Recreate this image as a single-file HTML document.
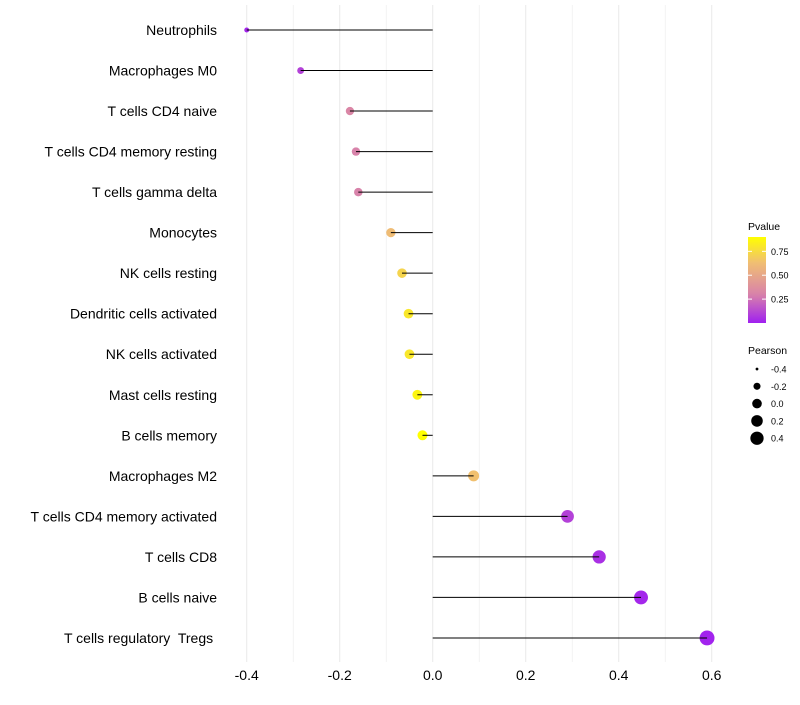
<!DOCTYPE html>
<html><head><meta charset="utf-8"><style>
body{margin:0;background:#fff;font-family:"Liberation Sans",sans-serif}
text{white-space:pre}
</style></head><body>
<svg id="c" width="800" height="700" xmlns="http://www.w3.org/2000/svg" font-family="Liberation Sans, sans-serif"></svg>
<script>
const categories=["Neutrophils","Macrophages M0","T cells CD4 naive","T cells CD4 memory resting","T cells gamma delta","Monocytes","NK cells resting","Dendritic cells activated","NK cells activated","Mast cells resting","B cells memory","Macrophages M2","T cells CD4 memory activated","T cells CD8","B cells naive","T cells regulatory  Tregs "];
const pearson=[-0.40,-0.284,-0.178,-0.165,-0.160,-0.090,-0.066,-0.052,-0.050,-0.033,-0.022,0.088,0.290,0.358,0.448,0.590];
const pvalue=[0.02,0.10,0.32,0.30,0.30,0.62,0.72,0.80,0.80,0.86,0.90,0.64,0.10,0.05,0.02,0.01];
const xTicks=[-0.4,-0.2,0.0,0.2,0.4,0.6];
const xTickLabels=["-0.4","-0.2","0.0","0.2","0.4","0.6"];
const pTicks=[0.25,0.50,0.75];
const pTickLabels=["0.25","0.50","0.75"];
const sizeBreaks=[-0.4,-0.2,0.0,0.2,0.4];
const sizeLabels=["-0.4","-0.2","0.0","0.2","0.4"];

const svg=document.getElementById('c');const NS="http://www.w3.org/2000/svg";
function mk(t,a,p){const e=document.createElementNS(NS,t);for(const k in a)e.setAttribute(k,a[k]);(p||svg).appendChild(e);return e;}
const x=v=>432.7+465*v;
const y=i=>30+i*40.53;
const pmin=0,pmax=0.9;
function lerp(a,b,t){return a+(b-a)*t}
const stops=[[0,[160,32,240]],[0.33,[216,130,170]],[0.7,[240,190,115]],[1,[255,255,0]]];
function col(p){const t=Math.max(0,Math.min(1,(p-pmin)/(pmax-pmin)));
 let k=0;while(k<stops.length-2&&t>stops[k+1][0])k++;
 const a=stops[k],b=stops[k+1];const u=(t-a[0])/(b[0]-a[0]);
 return `rgb(${a[1].map((c,j)=>Math.round(lerp(c,b[1][j],u))).join(',')})`;}
const rad=v=>Math.sqrt(lerp(6,56,(v+0.4)/1.0));
const lrad=v=>Math.sqrt(lerp(2,44,(v+0.4)/0.8));
for(let v=-0.4;v<=0.61;v+=0.1){const g=mk('line',{x1:x(v),x2:x(v),y1:5,y2:662,stroke:'#ebebeb','stroke-width':Math.abs(Math.round(v*10))%2==0?1.1:0.6});
}
xTicks.forEach((v,i)=>{const t=mk('text',{x:x(v),y:680,'text-anchor':'middle','font-size':14,fill:'#000'});t.textContent=xTickLabels[i];
});
categories.forEach((c,i)=>{
 const t=mk('text',{x:217,y:y(i)+5,'text-anchor':'end','font-size':14,fill:'#000'});t.textContent=c;
 
 const d=mk('circle',{cx:x(pearson[i]),cy:y(i),r:rad(pearson[i]),fill:col(pvalue[i])});
 
 const l=mk('line',{x1:x(0),x2:x(pearson[i]),y1:y(i),y2:y(i),stroke:'#000','stroke-width':1});
 
});
const t1=mk('text',{x:748,y:230,'font-size':10.5});t1.textContent='Pvalue';

const defs=mk('defs',{});const lg=mk('linearGradient',{id:'g',x1:0,y1:1,x2:0,y2:0},defs);
for(let k=0;k<=20;k++)mk('stop',{offset:k/20,'stop-color':col(pmin+(pmax-pmin)*k/20)},lg);
const cbTop=237,cbBot=323;const py=p=>cbBot-(p-pmin)/(pmax-pmin)*(cbBot-cbTop);
const cb=mk('rect',{x:748,y:cbTop,width:18,height:cbBot-cbTop,fill:'url(#g)'});

pTicks.forEach((p,i)=>{mk('line',{x1:748,x2:752,y1:py(p),y2:py(p),stroke:'#fff'});mk('line',{x1:762,x2:766,y1:py(p),y2:py(p),stroke:'#fff'});
 const t=mk('text',{x:771,y:py(p)+3.5,'font-size':9});t.textContent=pTickLabels[i];
 });
const t2=mk('text',{x:748,y:354,'font-size':10.5});t2.textContent='Pearson';

sizeBreaks.forEach((v,i)=>{const cy=369+i*17.3;
 const d=mk('circle',{cx:757,cy:cy,r:lrad(v),fill:'#000'});
 const t=mk('text',{x:771,y:cy+3.5,'font-size':9});t.textContent=sizeLabels[i];
 });
</script>
</body></html>
